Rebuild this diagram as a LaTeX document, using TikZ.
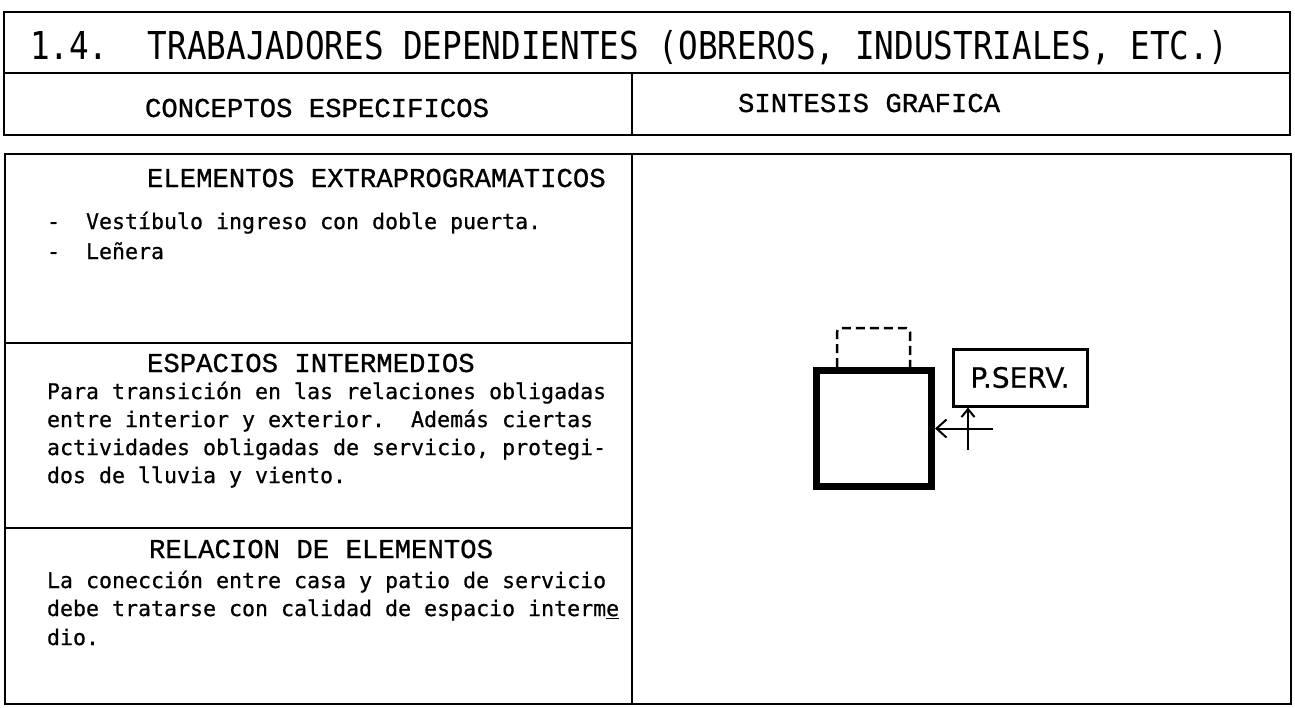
\documentclass[tikz,border=0pt]{standalone}
\usepackage{fontspec}
\usetikzlibrary{arrows.meta}
\newfontfamily\monosans[FakeBold=0.6]{DejaVu Sans Mono}
\newfontfamily\titlemono[FakeStretch=0.85]{DejaVu Sans Mono}
\newfontfamily\headmono[FakeBold=0.8]{Liberation Mono}
\newfontfamily\lettering[FakeBold=0.6]{DejaVu Sans}
\frenchspacing
\begin{document}
\begin{tikzpicture}[x=1pt,y=-1pt,
  frame/.style={line width=2.5pt},
  divider/.style={line width=2.1pt},
  txt/.style={anchor=base west, inner sep=0pt, outer sep=0pt},
  titletxt/.style={txt, font=\titlemono\fontsize{38.4}{40}\selectfont},
  sechead/.style={txt, font=\headmono\fontsize{27.3}{30}\selectfont},
  body/.style={txt, font=\monosans\fontsize{21.6}{28}\selectfont},
  wall/.style={draw, line width=7pt, inner sep=0pt, minimum width=115pt, minimum height=116pt},
  capline/.style={line width=2.5pt, dash pattern=on 9pt off 5pt, rounded corners=4pt},
  patio/.style={draw, line width=3pt, inner sep=0pt, minimum width=134pt, minimum height=57pt,
    font=\lettering\fontsize{28}{28}\selectfont},
  conn/.style={line width=2pt},
  hhead/.style={-{Straight Barb[length=10pt,width=18pt]}},
  vhead/.style={-{Straight Barb[length=8pt,width=13pt]}}
]
\fill[white] (0,0) rectangle (1295,707);
\useasboundingbox (0,0) rectangle (1295,707);

% header table
\draw[frame] (4,12) rectangle (1290,135);
\draw[divider] (4,73) -- (1290,73);
\draw[divider] (632,73) -- (632,135);
% body table
\draw[frame] (5,154) rectangle (1291,704);
\draw[divider] (632,154) -- (632,704);
\draw[divider] (5,343) -- (632,343);
\draw[divider] (5,528) -- (632,528);

\node[titletxt] (title) at (30,59) {1.4.\ \ TRABAJADORES DEPENDIENTES (OBREROS, INDUSTRIALES, ETC.)};
\node[sechead] (conc) at (145,117) {CONCEPTOS ESPECIFICOS};
\node[sechead] (sint) at (738,112) {SINTESIS GRAFICA};

\node[sechead] (elem) at (147,187) {ELEMENTOS EXTRAPROGRAMATICOS};
\node[body] (e1) at (47,229) {-\ \ Vestíbulo ingreso con doble puerta.};
\node[body] (e2) at (47,259) {-\ \ Leñera};

\node[sechead] (esp) at (147,372) {ESPACIOS INTERMEDIOS};
\node[body] (s1) at (47,399) {Para transición en las relaciones obligadas};
\node[body] (s2) at (47,427) {entre interior y exterior.\ \ Además ciertas};
\node[body] (s3) at (47,455) {actividades obligadas de servicio, protegi-};
\node[body] (s4) at (47,483) {dos de lluvia y viento.};

\node[sechead] (rel) at (149,558) {RELACION DE ELEMENTOS};
\node[body] (r1) at (47,588) {La conección entre casa y patio de servicio};
\node[body] (r2) at (47,616) {debe tratarse con calidad de espacio interm\underline{e}};
\node[body] (r3) at (47,645) {dio.};

% graphic synthesis
\node[wall] (house) at (874,428.5) {};
\draw[capline] (837,367) -- (837,328) -- (910,328) -- (910,367);
\node[patio] (pserv) at (1020,377.5) {P.SERV.\hspace{8pt}};
\coordinate (hs) at (993,428.5);
\coordinate (vs) at (968,450);
\draw[conn,hhead] (hs) -- (hs -| house.east);
\draw[conn,vhead] (vs) -- (vs |- pserv.south);
\end{tikzpicture}
\end{document}
